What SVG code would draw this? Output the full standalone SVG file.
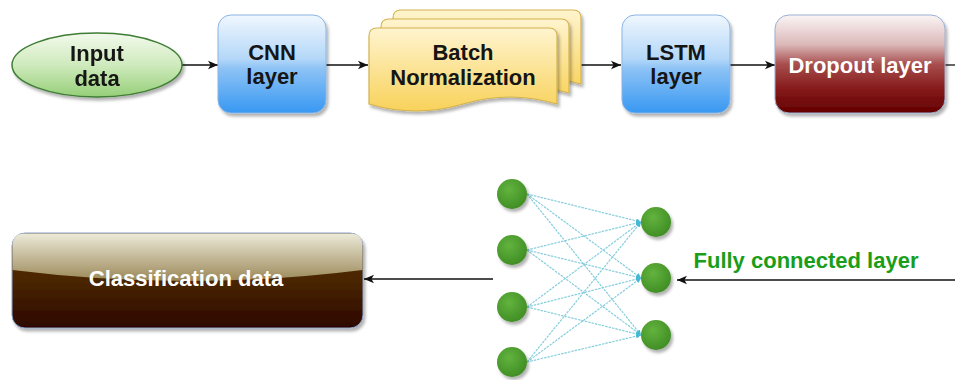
<svg xmlns="http://www.w3.org/2000/svg" width="955" height="380" viewBox="0 0 955 380">
  <defs>
    <linearGradient id="gGreen" x1="0" y1="0" x2="0" y2="1">
      <stop offset="0" stop-color="#f2faec"/>
      <stop offset="0.5" stop-color="#cfeabd"/>
      <stop offset="1" stop-color="#95cf78"/>
    </linearGradient>
    <linearGradient id="gBlue" x1="0" y1="0" x2="0" y2="1">
      <stop offset="0" stop-color="#f0f7fe"/>
      <stop offset="0.45" stop-color="#b3d7f8"/>
      <stop offset="0.55" stop-color="#8cc2f5"/>
      <stop offset="1" stop-color="#3898f2"/>
    </linearGradient>
    <linearGradient id="gYellow" x1="0" y1="0" x2="0" y2="1">
      <stop offset="0" stop-color="#fff4cf"/>
      <stop offset="1" stop-color="#f8d25a"/>
    </linearGradient>
    <linearGradient id="gRed" x1="0" y1="0" x2="0" y2="1">
      <stop offset="0" stop-color="#fbf5f5"/>
      <stop offset="0.3" stop-color="#dcb9b9"/>
      <stop offset="0.5" stop-color="#a84f4f"/>
      <stop offset="0.75" stop-color="#861a1a"/>
      <stop offset="1" stop-color="#640000"/>
    </linearGradient>
    <linearGradient id="gBrown" x1="0" y1="0" x2="0" y2="1">
      <stop offset="0" stop-color="#553300"/>
      <stop offset="0.5" stop-color="#4a2600"/>
      <stop offset="1" stop-color="#2c0500"/>
    </linearGradient>
    <linearGradient id="gBrownHi" x1="0" y1="0" x2="0" y2="1">
      <stop offset="0" stop-color="#ecead9"/>
      <stop offset="1" stop-color="#9b8858"/>
    </linearGradient>
    <radialGradient id="gNode" cx="0.4" cy="0.35" r="0.7">
      <stop offset="0" stop-color="#62b33e"/>
      <stop offset="1" stop-color="#3f8c24"/>
    </radialGradient>
    <filter id="shadow" x="-10%" y="-10%" width="125%" height="130%">
      <feDropShadow dx="2" dy="3" stdDeviation="1.5" flood-color="#000" flood-opacity="0.3"/>
    </filter>
    <marker id="arrow" viewBox="0 0 10 10" refX="10" refY="5" markerWidth="10" markerHeight="10" markerUnits="userSpaceOnUse" orient="auto">
      <path d="M0,0.8 L10,5 L0,9.2 L2.6,5 Z" fill="#111"/>
    </marker>
    <marker id="tip" viewBox="0 0 6 6" refX="6" refY="3" markerWidth="5" markerHeight="5" markerUnits="userSpaceOnUse" orient="auto">
      <path d="M0,0 L6,3 L0,6 Z" fill="#45b8d4"/>
    </marker>
  </defs>
  <style>
    .lbl { font-family: "Liberation Sans", Arial, sans-serif; font-weight: bold; font-size: 22px; text-anchor: middle; fill: #151515; }
    .lblw { fill: #ffffff; }
    .edge { stroke: #111; stroke-width: 1.3; fill: none; }
    .nn { stroke: #86cedc; stroke-width: 1.2; stroke-dasharray: 2.5 1; fill: none; }
    .doc { fill: url(#gYellow); stroke: #d4b24e; stroke-width: 1.2; filter: url(#shadow); }
  </style>

  <!-- connectors -->
  <g id="connectors">
    <line class="edge" x1="182" y1="65" x2="218" y2="65" marker-end="url(#arrow)"/>
    <line class="edge" x1="326" y1="65" x2="368" y2="65" marker-end="url(#arrow)"/>
    <line class="edge" x1="581" y1="65" x2="621" y2="65" marker-end="url(#arrow)"/>
    <line class="edge" x1="730" y1="65" x2="775" y2="65" marker-end="url(#arrow)"/>
    <line class="edge" x1="945" y1="65" x2="955" y2="65"/>
    <line class="edge" x1="955" y1="280" x2="677" y2="280" marker-end="url(#arrow)"/>
    <line class="edge" x1="493" y1="279" x2="364" y2="279" marker-end="url(#arrow)"/>
  </g>

  <!-- input -->
  <g id="input-data" filter="url(#shadow)">
    <ellipse cx="97" cy="65" rx="85" ry="32" fill="url(#gGreen)" stroke="#3f7d35" stroke-width="1.5"/>
    <text class="lbl" x="97" y="61">Input</text>
    <text class="lbl" x="97" y="86">data</text>
  </g>

  <!-- CNN -->
  <g id="cnn-layer">
    <rect x="218" y="15" width="108" height="98" rx="13" fill="url(#gBlue)" stroke="#8ab4e4" stroke-width="1" filter="url(#shadow)"/>
    <text class="lbl" x="272" y="60">CNN</text>
    <text class="lbl" x="272" y="84">layer</text>
  </g>

  <!-- batch normalization (stacked documents) -->
  <g id="batch-normalization">
    <path class="doc" d="M393,18 Q393,10 401,10 H573 Q581,10 581,18 V84 Q534,70 487,84 Q440,98 393,84 Z"/>
    <path class="doc" d="M381,27 Q381,19 389,19 H561 Q569,19 569,27 V93 Q522,79 475,93 Q428,107 381,93 Z"/>
    <path class="doc" d="M369,36 Q369,28 377,28 H549 Q557,28 557,36 V104 Q510,90 463,104 Q416,118 369,104 Z"/>
    <text class="lbl" x="463" y="60">Batch</text>
    <text class="lbl" x="463" y="85">Normalization</text>
  </g>

  <!-- LSTM -->
  <g id="lstm-layer">
    <rect x="622" y="15" width="108" height="98" rx="13" fill="url(#gBlue)" stroke="#8ab4e4" stroke-width="1" filter="url(#shadow)"/>
    <text class="lbl" x="676" y="60">LSTM</text>
    <text class="lbl" x="676" y="84">layer</text>
  </g>

  <!-- dropout -->
  <g id="dropout-layer">
    <rect x="775" y="15" width="170" height="98" rx="14" fill="url(#gRed)" stroke="#9ab0d4" stroke-width="1" filter="url(#shadow)"/>
    <text class="lbl lblw" x="860" y="73">Dropout layer</text>
  </g>

  <!-- fully connected layer -->
  <g id="fully-connected-layer">
    <g id="fc-links" marker-end="url(#tip)">
      <line class="nn" x1="527" y1="194" x2="641" y2="222"/>
      <line class="nn" x1="527" y1="194" x2="641" y2="278"/>
      <line class="nn" x1="527" y1="194" x2="641" y2="335"/>
      <line class="nn" x1="527" y1="250" x2="641" y2="222"/>
      <line class="nn" x1="527" y1="250" x2="641" y2="278"/>
      <line class="nn" x1="527" y1="250" x2="641" y2="335"/>
      <line class="nn" x1="527" y1="307" x2="641" y2="222"/>
      <line class="nn" x1="527" y1="307" x2="641" y2="278"/>
      <line class="nn" x1="527" y1="307" x2="641" y2="335"/>
      <line class="nn" x1="527" y1="362" x2="641" y2="222"/>
      <line class="nn" x1="527" y1="362" x2="641" y2="278"/>
      <line class="nn" x1="527" y1="362" x2="641" y2="335"/>
    </g>
    <g id="fc-units" fill="url(#gNode)" filter="url(#shadow)">
      <circle cx="512" cy="194" r="15"/>
      <circle cx="512" cy="250" r="15"/>
      <circle cx="512" cy="307" r="15"/>
      <circle cx="512" cy="362" r="15"/>
      <circle cx="656" cy="222" r="15"/>
      <circle cx="656" cy="278" r="15"/>
      <circle cx="656" cy="335" r="15"/>
    </g>
    <text class="lbl" x="806" y="268" style="fill:#1a9e1a">Fully connected layer</text>
  </g>

  <!-- classification -->
  <g id="classification-data">
    <rect x="12" y="233" width="351" height="95" rx="13" fill="url(#gBrown)" stroke="#8aa4cc" stroke-width="1" filter="url(#shadow)"/>
    <path d="M12.5,246 Q12.5,233.5 25,233.5 H350 Q362.5,233.5 362.5,246 V270 Q187,292 12.5,270 Z" fill="url(#gBrownHi)"/>
    <text class="lbl lblw" x="186" y="286">Classification data</text>
  </g>
</svg>
